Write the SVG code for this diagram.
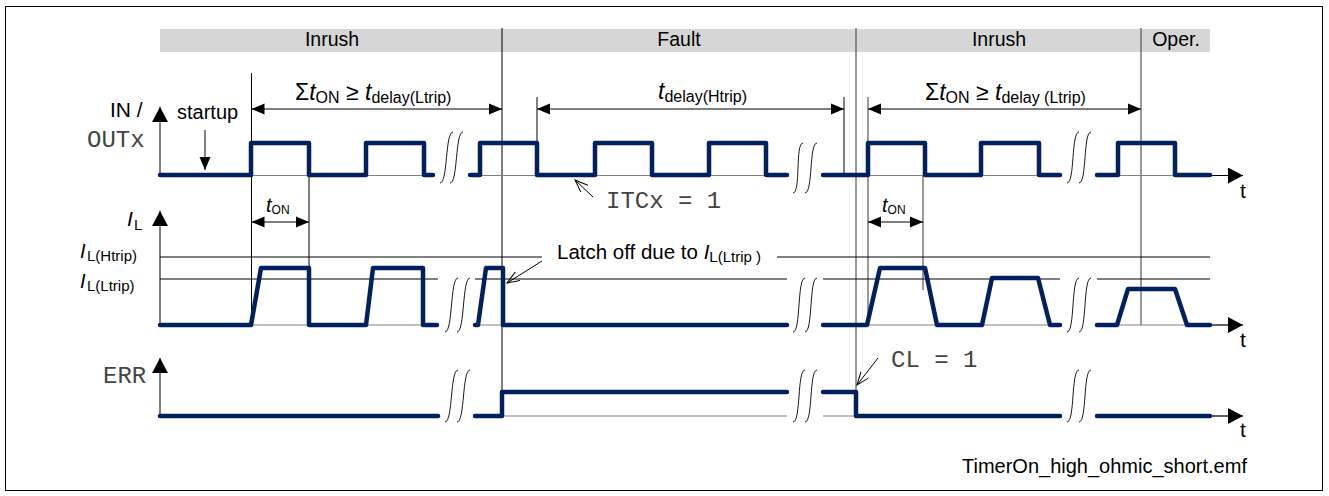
<svg xmlns="http://www.w3.org/2000/svg" width="1329" height="496" viewBox="0 0 1329 496">
<style>
.t{font-family:"Liberation Sans",Arial,sans-serif;fill:#000}
.m{font-family:"Liberation Mono","Courier New",monospace;fill:#444;font-size:24px}
.sig{fill:none;stroke:#002060;stroke-width:4.5;stroke-linejoin:round;stroke-linecap:round}
.base{fill:none;stroke:#808080;stroke-width:1.2}
.thin{fill:none;stroke:#000;stroke-width:1}
.grey{fill:none;stroke:#555;stroke-width:1.2}
.brk{fill:none;stroke:#000;stroke-width:0.9}
.dim{fill:none;stroke:#000;stroke-width:1;marker-start:url(#da);marker-end:url(#da)}
</style>
<defs>
<marker id="da" markerUnits="userSpaceOnUse" markerWidth="14" markerHeight="12" refX="13" refY="6" orient="auto-start-reverse"><path d="M0,0.5 L13,6 L0,11.5 z" fill="#000"/></marker>
<marker id="ax" markerUnits="userSpaceOnUse" markerWidth="16" markerHeight="17" refX="15" refY="8" orient="auto"><path d="M0,0 L15,8 L0,16 z" fill="#000"/></marker>
<marker id="oa" markerUnits="userSpaceOnUse" markerWidth="14" markerHeight="12" refX="13" refY="5" orient="auto"><path d="M0,0 L13,5 L0,10" fill="none" stroke="#000" stroke-width="1"/></marker>
</defs>
<rect x="5.5" y="6.5" width="1317" height="484" fill="#fff" stroke="#000" stroke-width="1"/>

<g id="header">
<rect x="160" y="29" width="1050" height="23" fill="#d6d6d6"/>
<text class="t" x="332" y="46" font-size="19.5" text-anchor="middle">Inrush</text>
<text class="t" x="679" y="46" font-size="19.5" text-anchor="middle">Fault</text>
<text class="t" x="999" y="46" font-size="19.5" text-anchor="middle">Inrush</text>
<text class="t" x="1176" y="46" font-size="19.5" text-anchor="middle">Oper.</text>
</g>

<g id="gridlines">
<line class="thin" x1="502" y1="28" x2="502" y2="416"/>
<line class="grey" x1="856" y1="28" x2="856" y2="416"/>
<line class="grey" x1="1141" y1="28" x2="1141" y2="325"/>
<line class="thin" x1="251.5" y1="73" x2="251.5" y2="325"/>
<line class="thin" x1="309" y1="176" x2="309" y2="268"/>
<line class="thin" x1="537" y1="97" x2="537" y2="143"/>
<line class="thin" x1="844" y1="97" x2="844" y2="176"/>
<line class="grey" x1="868" y1="97" x2="868" y2="325"/>
<line class="grey" x1="923" y1="176" x2="923" y2="290"/>
<line class="thin" x1="160" y1="257" x2="542" y2="257"/>
<line class="thin" x1="777" y1="257" x2="1210" y2="257"/>
<path class="thin" d="M160,279 H438 M475,279 H787 M823,279 H1060 M1097,279 H1210"/>
<path class="base" d="M160,175.5 H433 M470,175.5 H787 M823,175.5 H1060 M1097,175.5 H1230"/>
<path class="base" d="M160,325 H438 M475,325 H787 M823,325 H1060 M1097,325 H1230"/>
<path class="base" d="M160,416 H438 M475,416 H787 M823,416 H1060 M1097,416 H1230"/>
</g>

<g id="axes">
<line class="thin" x1="160" y1="175" x2="160" y2="107" marker-end="url(#ax)"/>
<line class="thin" x1="160" y1="325" x2="160" y2="211" marker-end="url(#ax)"/>
<line class="thin" x1="160" y1="416" x2="160" y2="358" marker-end="url(#ax)"/>
<line class="thin" x1="1205" y1="175.5" x2="1243" y2="175.5" marker-end="url(#ax)"/>
<line class="thin" x1="1205" y1="325" x2="1243" y2="325" marker-end="url(#ax)"/>
<line class="thin" x1="1205" y1="416" x2="1243" y2="416" marker-end="url(#ax)"/>
<text class="t" x="1240" y="198" font-size="21">t</text>
<text class="t" x="1240" y="347" font-size="21">t</text>
<text class="t" x="1240" y="437" font-size="21">t</text>
</g>

<g id="labels">
<text class="t" x="110" y="117" font-size="21">IN /</text>
<text class="m" x="87" y="147">OUTx</text>
<text class="t" x="127" y="226" font-size="21" font-style="italic">I</text>
<text class="t" x="134" y="230" font-size="15">L</text>
<text class="t" x="80" y="258" font-size="20" font-style="italic">I</text>
<text class="t" x="87" y="261" font-size="15">L(Htrip)</text>
<text class="t" x="80" y="288" font-size="20" font-style="italic">I</text>
<text class="t" x="87" y="291" font-size="15">L(Ltrip)</text>
<text class="m" x="103" y="383">ERR</text>
<text class="t" x="177" y="119" font-size="20">startup</text>
</g>

<g id="signals">
<path class="sig" d="M160,175 H251 V143 H309 V175 H366 V143 H424 V175 H433"/>
<path class="sig" d="M470,175 H480 V143 H537 V175 H595 V143 H652 V175 H709 V143 H766 V175 H787"/>
<path class="sig" d="M823,175 H868 V143 H925 V175 H981 V143 H1039 V175 H1060"/>
<path class="sig" d="M1097,175 H1118 V143 H1175 V175 H1210"/>
<path class="sig" d="M160,325 H251 L261,268 H309 V325 H366 L373,268 H423 V325 H437"/>
<path class="sig" d="M475,325 H478 L486,268 H503 V325 H787"/>
<path class="sig" d="M823,325 H867 L880,268 H925 L937,325 H982 L992,278 H1038 L1050,325 H1060"/>
<path class="sig" d="M1097,325 H1117 L1128,289 H1175 L1187,325 H1210"/>
<path class="sig" d="M160,416 H438"/>
<path class="sig" d="M475,416 H502 V392 H787"/>
<path class="sig" d="M823,392 H856 V416 H1060"/>
<path class="sig" d="M1097,416 H1210"/>
</g>

<g id="breaks">
<path class="brk" d="M440,183 C448,183 445,132 453,132 M450,183 C458,183 455,132 463,132"/>
<path class="brk" d="M793,193 C801,193 795,143 803,143 M805,193 C813,193 809,143 817,143"/>
<path class="brk" d="M1067,183 C1075,183 1071,132 1079,132 M1079,183 C1087,183 1083,132 1091,132"/>
<path class="brk" d="M445,332 C453,332 450,278 458,278 M457,332 C465,332 462,278 470,278"/>
<path class="brk" d="M793,332 C801,332 797,278 805,278 M805,332 C813,332 809,278 817,278"/>
<path class="brk" d="M1067,332 C1075,332 1071,278 1079,278 M1079,332 C1087,332 1083,278 1091,278"/>
<path class="brk" d="M445,422 C453,422 450,370 458,370 M457,422 C465,422 462,370 470,370"/>
<path class="brk" d="M793,422 C801,422 797,370 805,370 M805,422 C813,422 809,370 817,370"/>
<path class="brk" d="M1067,422 C1075,422 1071,370 1079,370 M1079,422 C1087,422 1083,370 1091,370"/>
</g>

<g id="connectors">
<line class="dim" x1="251.5" y1="109" x2="502" y2="109"/>
<line class="dim" x1="537" y1="109" x2="844" y2="109"/>
<line class="dim" x1="868" y1="109" x2="1141" y2="109"/>
<line class="dim" x1="251.5" y1="222" x2="309" y2="222"/>
<line class="dim" x1="868" y1="222" x2="923" y2="222"/>
<line class="thin" x1="205" y1="130" x2="205" y2="170" marker-end="url(#da)"/>
<line class="thin" x1="542" y1="261" x2="507" y2="283" marker-end="url(#oa)"/>
<line class="thin" x1="593" y1="197" x2="575" y2="180" marker-end="url(#oa)"/>
<line class="thin" x1="878" y1="358" x2="857" y2="385" marker-end="url(#oa)"/>
</g>

<g id="annotations">
<text class="t" x="295" y="100" font-size="23">Σ<tspan font-style="italic">t</tspan><tspan font-size="16" dy="3">ON</tspan><tspan dy="-3"> ≥ </tspan><tspan font-style="italic">t</tspan><tspan font-size="16" dy="3">delay(Ltrip)</tspan></text>
<text class="t" x="658" y="99" font-size="23" font-style="italic">t<tspan font-style="normal" font-size="16" dy="3">delay(Htrip)</tspan></text>
<text class="t" x="925" y="100" font-size="23">Σ<tspan font-style="italic">t</tspan><tspan font-size="16" dy="3">ON</tspan><tspan dy="-3"> ≥ </tspan><tspan font-style="italic">t</tspan><tspan font-size="16" dy="3">delay (Ltrip)</tspan></text>
<text class="t" x="266" y="212" font-size="20" font-style="italic">t<tspan font-style="normal" font-size="12" dy="2">ON</tspan></text>
<text class="t" x="882" y="212" font-size="20" font-style="italic">t<tspan font-style="normal" font-size="12" dy="2">ON</tspan></text>
<text class="m" x="606" y="208">ITCx = 1</text>
<text class="t" x="557" y="259" font-size="20.5">Latch off due to <tspan font-style="italic">I</tspan><tspan font-size="15" dy="3">L(Ltrip )</tspan></text>
<text class="m" x="891" y="367">CL = 1</text>
<text class="t" x="962" y="473" font-size="20">TimerOn_high_ohmic_short.emf</text>
</g>
</svg>
